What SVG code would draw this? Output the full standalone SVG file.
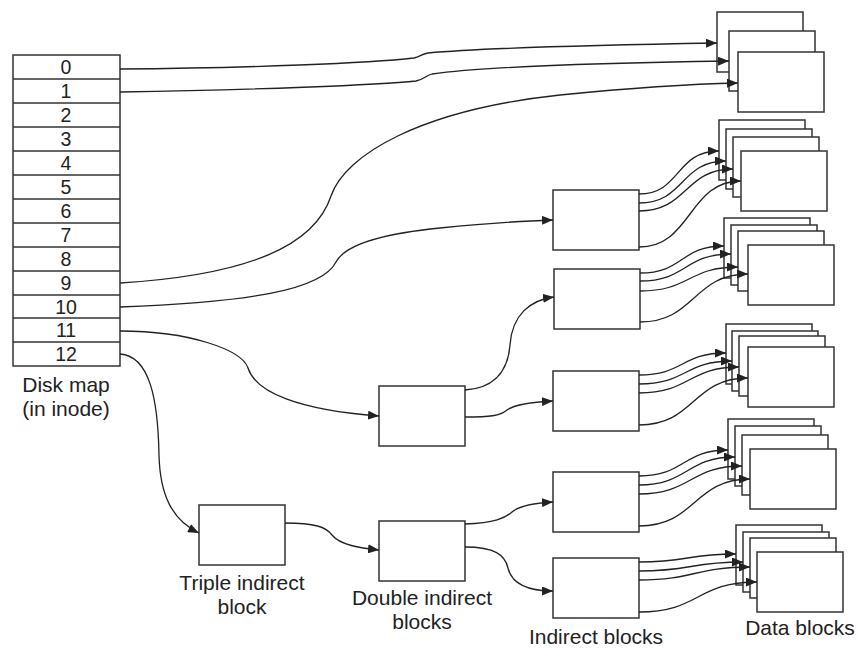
<svg xmlns="http://www.w3.org/2000/svg" width="859" height="648" viewBox="0 0 859 648">
<style>
.box{fill:#fff;stroke:#333;stroke-width:1.5}
.row{stroke:#333;stroke-width:1.4}
.c{fill:none;stroke:#222;stroke-width:1.3;marker-end:url(#ah)}
.d{font-family:"Liberation Sans",Arial,sans-serif;font-size:19.5px;fill:#222;text-anchor:middle}
.l{font-family:"Liberation Sans",Arial,sans-serif;font-size:21px;fill:#222;text-anchor:middle}
</style>
<defs>
<marker id="ah" markerUnits="userSpaceOnUse" markerWidth="11" markerHeight="9" refX="11" refY="4.5" orient="auto">
<path d="M0,0 L11,4.5 L0,9 z" fill="#222"/>
</marker>
</defs>
<rect width="859" height="648" fill="#fff"/>

<g id="diskmap">
<rect class="box" x="13" y="55" width="107" height="311"/>
<line class="row" x1="13" y1="79" x2="120" y2="79"/>
<line class="row" x1="13" y1="103" x2="120" y2="103"/>
<line class="row" x1="13" y1="127" x2="120" y2="127"/>
<line class="row" x1="13" y1="151" x2="120" y2="151"/>
<line class="row" x1="13" y1="175" x2="120" y2="175"/>
<line class="row" x1="13" y1="199" x2="120" y2="199"/>
<line class="row" x1="13" y1="223" x2="120" y2="223"/>
<line class="row" x1="13" y1="247" x2="120" y2="247"/>
<line class="row" x1="13" y1="271" x2="120" y2="271"/>
<line class="row" x1="13" y1="295" x2="120" y2="295"/>
<line class="row" x1="13" y1="318" x2="120" y2="318"/>
<line class="row" x1="13" y1="342" x2="120" y2="342"/>
<text class="d" x="66" y="74">0</text>
<text class="d" x="66" y="98">1</text>
<text class="d" x="66" y="122">2</text>
<text class="d" x="66" y="146">3</text>
<text class="d" x="66" y="170">4</text>
<text class="d" x="66" y="194">5</text>
<text class="d" x="66" y="218">6</text>
<text class="d" x="66" y="242">7</text>
<text class="d" x="66" y="266">8</text>
<text class="d" x="66" y="290">9</text>
<text class="d" x="66" y="313.5">10</text>
<text class="d" x="66" y="337">11</text>
<text class="d" x="66" y="361">12</text>
<text class="l" x="66" y="392">Disk map</text>
<text class="l" x="66" y="416">(in inode)</text>
</g>

<g id="triple">
<rect class="box" x="199" y="505" width="86" height="60"/>
<text class="l" x="242" y="590">Triple indirect</text>
<text class="l" x="242" y="614">block</text>
</g>

<g id="double1"><rect class="box" x="379" y="386" width="86" height="60"/></g>
<g id="double2">
<rect class="box" x="379" y="521" width="86" height="60"/>
<text class="l" x="422" y="605">Double indirect</text>
<text class="l" x="422" y="629">blocks</text>
</g>

<g id="indirectA"><rect class="box" x="553" y="190" width="86" height="60"/></g>
<g id="indirectB"><rect class="box" x="554" y="269" width="86" height="60"/></g>
<g id="indirectC"><rect class="box" x="553" y="371" width="86" height="60"/></g>
<g id="indirectD"><rect class="box" x="553" y="472" width="86" height="60"/></g>
<g id="indirectE">
<rect class="box" x="553" y="558" width="86" height="60"/>
<text class="l" x="596" y="644">Indirect blocks</text>
</g>

<g id="data1">
<rect class="box" x="717" y="12" width="86" height="60"/>
<rect class="box" x="729" y="31" width="86" height="60"/>
<rect class="box" x="738" y="52" width="86" height="60"/>
</g>
<g id="data2">
<rect class="box" x="719" y="120" width="86" height="60"/>
<rect class="box" x="726" y="129" width="86" height="60"/>
<rect class="box" x="733" y="137" width="86" height="60"/>
<rect class="box" x="741" y="151" width="86" height="60"/>
</g>
<g id="data3">
<rect class="box" x="724" y="218" width="86" height="60"/>
<rect class="box" x="731" y="225" width="86" height="60"/>
<rect class="box" x="738" y="231" width="86" height="60"/>
<rect class="box" x="748" y="245" width="86" height="60"/>
</g>
<g id="data4">
<rect class="box" x="726" y="324" width="86" height="60"/>
<rect class="box" x="732" y="331" width="86" height="60"/>
<rect class="box" x="739" y="336" width="86" height="60"/>
<rect class="box" x="748" y="347" width="86" height="60"/>
</g>
<g id="data5">
<rect class="box" x="728" y="419" width="86" height="60"/>
<rect class="box" x="735" y="426" width="86" height="60"/>
<rect class="box" x="742" y="435" width="86" height="60"/>
<rect class="box" x="750" y="449" width="86" height="60"/>
</g>
<g id="data6">
<rect class="box" x="736" y="525" width="86" height="60"/>
<rect class="box" x="743" y="532" width="86" height="60"/>
<rect class="box" x="750" y="538" width="86" height="60"/>
<rect class="box" x="757" y="552" width="86" height="60"/>
<text class="l" x="800" y="635">Data blocks</text>
</g>

<g id="connectors">
<path class="c" d="M120,69 C250,68 370,63 414,58 C420,57 421,54 428,53 C480,48 600,45 717,43"/>
<path class="c" d="M120,92 C250,90 380,85 416,81 C423,80 425,76 432,74 C480,67 600,63 729,61"/>
<path class="c" d="M120,283 C250,275 315,245 331,196 C345,155 420,110 560,95 C630,88 690,84 738,83"/>
<path class="c" d="M120,307 C250,302 322,290 336,262 C346,243 390,233 440,228 C480,224 520,221 553,220"/>
<path class="c" d="M120,331 C190,331 242,350 248,368 C256,393 300,410 379,416"/>
<path class="c" d="M120,354 C150,356 158,400 159,455 C160,495 172,520 199,533"/>
<path class="c" d="M285,523 C315,523 326,527 332,535 C340,545 360,548 379,550"/>
<path class="c" d="M465,390 C495,388 508,370 510,345 C512,315 530,300 554,297"/>
<path class="c" d="M465,417 C490,417 500,416 507,410 C515,404 535,402 553,401"/>
<path class="c" d="M465,524 C495,523 505,518 512,512 C520,505 535,503 553,502"/>
<path class="c" d="M465,547 C495,547 505,555 508,568 C512,585 530,591 553,591"/>

<path class="c" d="M639,194 C681,194 675,151 719,151"/>
<path class="c" d="M639,203 C685,203 680,161 726,161"/>
<path class="c" d="M639,211 C688,211 684,169 733,169"/>
<path class="c" d="M639,247 C692,247 688,181 741,181"/>

<path class="c" d="M640,273 C684,273 680,246 724,246"/>
<path class="c" d="M640,281 C687,281 684,254 731,254"/>
<path class="c" d="M640,291 C690,291 688,267 738,267"/>
<path class="c" d="M640,322 C695,322 693,274 748,274"/>

<path class="c" d="M639,375 C684,375 681,353 726,353"/>
<path class="c" d="M639,384 C687,384 684,361 732,361"/>
<path class="c" d="M639,393 C690,393 688,367 739,367"/>
<path class="c" d="M639,425 C695,425 692,378 748,378"/>

<path class="c" d="M639,476 C685,476 682,450 728,450"/>
<path class="c" d="M639,485 C688,485 686,457 735,457"/>
<path class="c" d="M639,494 C691,494 690,466 742,466"/>
<path class="c" d="M639,526 C696,526 693,479 750,479"/>

<path class="c" d="M639,562 C689,562 686,554 736,554"/>
<path class="c" d="M639,571 C692,571 690,562 743,562"/>
<path class="c" d="M639,580 C695,580 694,567 750,567"/>
<path class="c" d="M639,612 C700,612 696,582 757,582"/>
</g>
</svg>
